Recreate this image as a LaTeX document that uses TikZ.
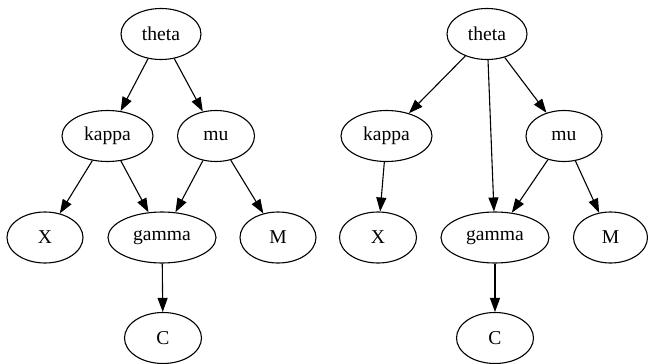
\documentclass[tikz,border=0pt]{standalone}
\usepackage{fontspec}
\setmainfont{Liberation Serif}
\usetikzlibrary{shapes.geometric,arrows.meta}
\tikzset{
  gnode/.style={draw, ellipse, line width=1.1pt, inner sep=0pt, minimum height=51pt,
    font=\fontsize{19.6}{22}\selectfont},
  gedge/.style={draw, line width=1.1pt, -{Triangle[length=14pt,width=10pt]}},
}
\begin{document}
\begin{tikzpicture}[x=1pt,y=-1pt]
\useasboundingbox (0,0) rectangle (648,364);
% left graph
\node[gnode, minimum width=80pt] (Lt) at (161,34) {theta};
\node[gnode, minimum width=91pt] (Lk) at (107.5,136) {kappa};
\node[gnode, minimum width=77pt] (Lm) at (216,136) {mu};
\node[gnode, minimum width=76pt] (LX) at (45,237.5) {X};
\node[gnode, minimum width=108pt] (Lg) at (162,237.5) {gamma};
\node[gnode, minimum width=76pt] (LM) at (278,237.5) {M};
\node[gnode, minimum width=77pt] (LC) at (163,338) {C};
\draw[gedge] (Lt) -- (Lk);
\draw[gedge] (Lt) -- (Lm);
\draw[gedge] (Lk) -- (LX);
\draw[gedge] (Lk) -- (Lg);
\draw[gedge] (Lm) -- (Lg);
\draw[gedge] (Lm) -- (LM);
\draw[gedge] (Lg) -- (LC);
% right graph
\node[gnode, minimum width=80pt] (Rt) at (487,34) {theta};
\node[gnode, minimum width=91pt] (Rk) at (386.5,136) {kappa};
\node[gnode, minimum width=76pt] (Rm) at (564,136) {mu};
\node[gnode, minimum width=77pt] (RX) at (378,237.5) {X};
\node[gnode, minimum width=108pt] (Rg) at (495,237.5) {gamma};
\node[gnode, minimum width=74pt] (RM) at (610.5,237.5) {M};
\node[gnode, minimum width=77pt] (RC) at (495,338) {C};
\draw[gedge] (Rt) -- (Rk);
\draw[gedge] (Rt) -- (Rm);
\draw[gedge] (Rt) -- (Rg);
\draw[gedge] (Rk) -- (RX);
\draw[gedge] (Rm) -- (Rg);
\draw[gedge] (Rm) -- (RM);
\draw[gedge] (Rg) -- (RC);
\end{tikzpicture}
\end{document}
